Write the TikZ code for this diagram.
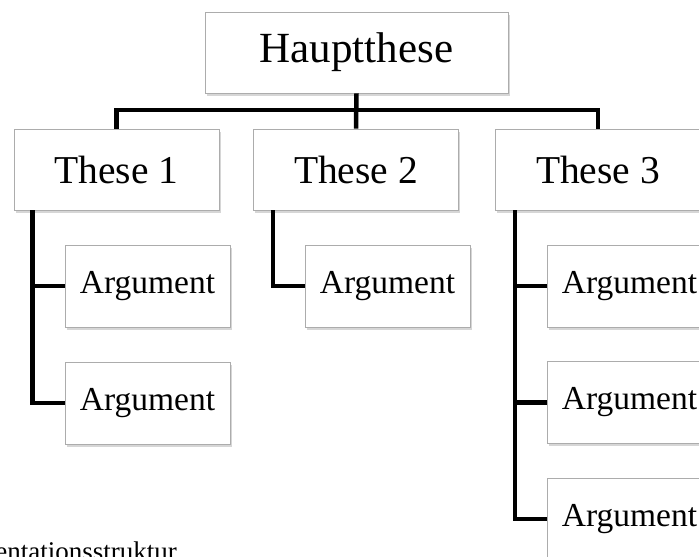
\documentclass[tikz,border=0pt]{standalone}
\usepackage{fontspec}
\setmainfont{Liberation Serif}
\usetikzlibrary{shadows}
\begin{document}
\begin{tikzpicture}[x=1pt,y=-1pt,
  box/.style={draw=gray!65, fill=white, line width=0.8pt, rectangle, inner sep=0pt,
    drop shadow={shadow xshift=1.5pt, shadow yshift=-2.5pt, opacity=0.4, fill=gray!80}},
  hbox/.style={box, minimum width=303pt, minimum height=81pt, font=\fontsize{43}{48}\selectfont},
  tbox/.style={box, minimum width=205pt, minimum height=81pt, font=\fontsize{39.5}{45}\selectfont},
  abox/.style={box, minimum width=165pt, minimum height=82pt, font=\fontsize{33.5}{38}\selectfont},
  conn/.style={line width=4.5pt, black}]
\useasboundingbox (0,0) rectangle (699,557);
\clip (0,0) rectangle (699,557);
\fill[white] (0,0) rectangle (699,557);

\node[hbox] (H) at (356.5,52.5) {Hauptthese};
\node[tbox] (T1) at (116.5,169.5) {These 1};
\node[tbox] (T2) at (356,169.5) {These 2};
\node[tbox] (T3) at (598,169.5) {These 3};

\node[abox] (A11) at (147.5,286) {Argument};
\node[abox] (A12) at (147.5,403) {Argument};
\node[abox] (A21) at (387.5,286) {Argument};
\node[abox] (A31) at (629.5,286) {Argument};
\node[abox] (A32) at (629.5,402.5) {Argument};
\node[abox] (A33) at (629.5,519) {Argument};

\coordinate (bar) at (356,110);
\draw[conn] (T1.north) |- (bar) -| (T3.north);
\draw[conn] (H.south) -- (T2.north);

\coordinate (t1) at ([xshift=19pt]T1.south west);
\coordinate (t2) at ([xshift=20pt]T2.south west);
\coordinate (t3) at ([xshift=20pt]T3.south west);
\draw[conn] (t1) |- (A12.west);
\draw[conn] (A11.west) -- (A11.west -| t1);
\draw[conn] (t2) |- (A21.west);
\draw[conn] (t3) |- (A33.west);
\draw[conn] (A31.west) -- (A31.west -| t3);
\draw[conn] (A32.west) -- (A32.west -| t3);

\node[anchor=base east, inner sep=0pt, font=\fontsize{27}{32}\selectfont] (cap) at (177,560) {Argumentationsstruktur};
\end{tikzpicture}
\end{document}
